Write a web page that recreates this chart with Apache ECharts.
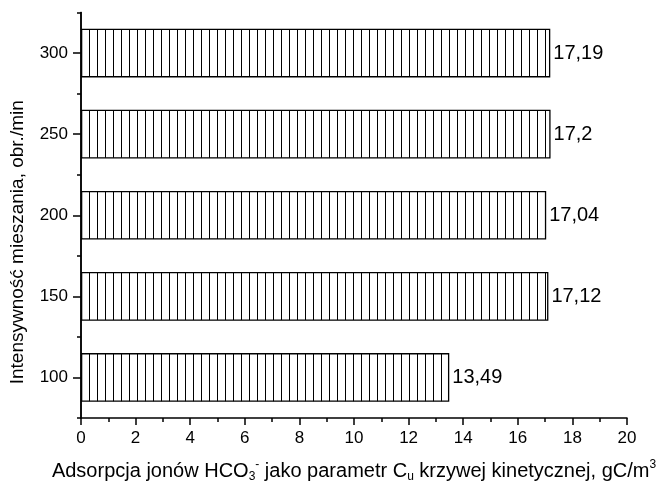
<!DOCTYPE html>
<html>
<head>
<meta charset="utf-8">
<script src="https://cdn.jsdelivr.net/npm/echarts@6/dist/echarts.min.js"></script>
<style>
  html, body { margin: 0; padding: 0; background: #fff; }
  #chart { width: 668px; height: 488px; }
</style>
</head>
<body>
<div id="chart"></div>
<script>
// Stirring intensity (rpm) and adsorption of HCO3- ions (Cu parameter)
const categories = ['100', '150', '200', '250', '300'];
const values = [13.49, 17.12, 17.04, 17.2, 17.19];
const xTicks = [0, 2, 4, 6, 8, 10, 12, 14, 16, 18, 20];

// Vertical hatching used as bar fill
function hatch() {
  const c = document.createElement('canvas');
  c.width = 8; c.height = 8;
  const g = c.getContext('2d');
  g.fillStyle = '#fff';
  g.fillRect(0, 0, 8, 8);
  g.fillStyle = '#000';
  g.fillRect(1, 0, 1, 8);
  return c;
}

const font = 'Liberation Sans, Arial, sans-serif';
const chart = echarts.init(document.getElementById('chart'), null, { renderer: 'canvas' });

chart.setOption({
  animation: false,
  backgroundColor: '#fff',
  grid: { left: 81, right: 41, top: 12.5, bottom: 69.5, containLabel: false },
  xAxis: {
    type: 'value',
    min: xTicks[0],
    max: xTicks[xTicks.length - 1],
    interval: 2,
    name: 'Adsorpcja jonów HCO{sub|3}{sup|-} jako parametr C{sub|u} krzywej kinetycznej, gC/m{sup|3}',
    nameLocation: 'middle',
    nameGap: 41,
    nameTextStyle: {
      fontFamily: font, fontSize: 20, color: '#000', lineHeight: 24,
      rich: {
        sub: { fontFamily: font, fontSize: 12, color: '#000', lineHeight: 13, verticalAlign: 'bottom' },
        sup: { fontFamily: font, fontSize: 12, color: '#000', lineHeight: 13, verticalAlign: 'top' }
      }
    },
    axisLine: { show: true, lineStyle: { color: '#000', width: 1.5 } },
    axisTick: { show: true, length: 7, lineStyle: { color: '#000', width: 1.5 } },
    minorTick: { show: true, splitNumber: 2, length: 4, lineStyle: { color: '#000', width: 1.5 } },
    splitLine: { show: false },
    axisLabel: { fontFamily: font, fontSize: 17, color: '#000', margin: 12 }
  },
  yAxis: [
    {
      type: 'category',
      data: categories,
      position: 'left',
      name: 'Intensywność mieszania, obr./min',
      nameLocation: 'middle',
      nameRotate: 90,
      nameGap: 54,
      nameTextStyle: { fontFamily: font, fontSize: 19, color: '#000', padding: [0, 54, 0, 0] },
      axisLine: { show: true, lineStyle: { color: '#000', width: 1.5 } },
      axisTick: { show: true, alignWithLabel: true, length: 8, lineStyle: { color: '#000', width: 1.5 } },
      axisLabel: { fontFamily: font, fontSize: 17, color: '#000', margin: 13 },
      splitLine: { show: false }
    },
    {
      type: 'category',
      data: categories,
      position: 'left',
      axisLine: { show: true, lineStyle: { color: '#000', width: 1.5 } },
      axisTick: { show: true, length: 4, lineStyle: { color: '#000', width: 1.5 } },
      axisLabel: { show: false },
      splitLine: { show: false }
    }
  ],
  series: [{
    type: 'bar',
    data: values,
    yAxisIndex: 0,
    barCategoryGap: '40%',
    itemStyle: {
      color: { image: hatch(), repeat: 'repeat' },
      borderColor: '#000',
      borderWidth: 1.3
    },
    label: {
      show: true,
      position: 'right',
      distance: 3,
      fontFamily: font,
      fontSize: 20,
      color: '#000',
      formatter: p => String(p.value).replace('.', ',')
    }
  }]
});
</script>
</body>
</html>
